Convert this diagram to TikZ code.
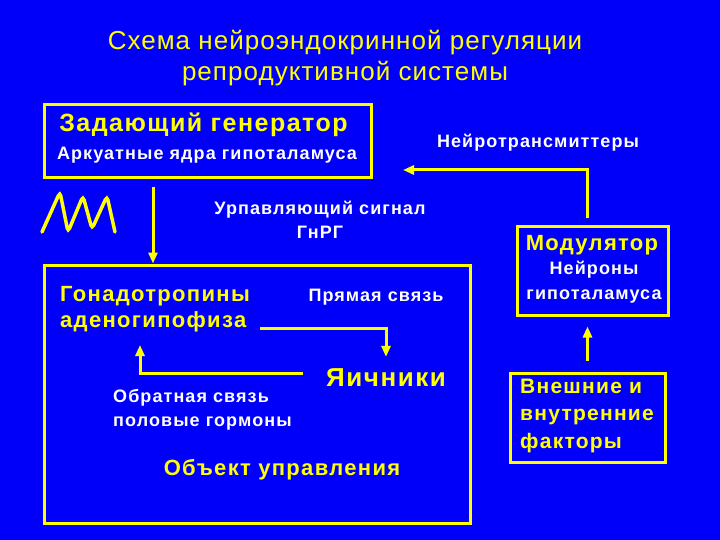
\documentclass[tikz,border=0pt]{standalone}
\usepackage{fontspec}
\setmainfont[LetterSpace=6]{Liberation Sans}
\usetikzlibrary{arrows.meta}
\definecolor{slideblue}{RGB}{0,0,250}
\definecolor{slideyellow}{RGB}{255,255,0}
\tikzset{
  frame/.style={draw=slideyellow, line width=3pt, inner sep=0pt},
  head/.style={text=slideyellow, font=\bfseries\fontsize{22}{26}\selectfont, inner sep=0pt},
  note/.style={text=white, font=\bfseries\fontsize{18}{24}\selectfont, inner sep=0pt},
  link/.style={draw=slideyellow, line width=3pt, -{Triangle[width=9pt,length=11pt]}},
}
\begin{document}
\begin{tikzpicture}[x=1pt, y=-1pt]
    \fill[slideblue] (0,0) rectangle (720,540);
    \useasboundingbox (0,0) rectangle (720,540);
    % title
    \node[text=slideyellow, font=\fontsize{26}{31}\selectfont\addfontfeature{LetterSpace=4}, align=center] (title) at (345,58)
        {Схема нейроэндокринной регуляции\\репродуктивной системы};
    % boxes
    \node[frame, minimum width=327pt, minimum height=73pt] (gen) at (207.5,141.5) {};
    \node[frame, minimum width=151pt, minimum height=88pt] (mod) at (592.5,271) {};
    \node[frame, minimum width=426pt, minimum height=258pt] (obj) at (257,394) {};
    \node[frame, minimum width=155pt, minimum height=89pt] (fac) at (587.5,417.5) {};
    % generator
    \node[head, font=\bfseries\fontsize{25}{28}\selectfont] (gentitle) at (203.5,125) {Задающий генератор};
    \node[note] (arc) at (207,155) {Аркуатные ядра гипоталамуса};
    \draw[slideyellow, line width=3.5pt, rounded corners=4pt, line cap=round]
        (42,232) -- (60,192) -- (68,232) -- (83,196) -- (92,229) -- (107,196) -- (115,232);
    \node[note, align=center] (signal) at (320,220) {Урпавляющий сигнал\\ГнРГ};
    % modulator
    \node[note] (ntr) at (538,143) {Нейротрансмиттеры};
    \node[head] (modtitle) at (592,245) {Модулятор};
    \node[note, align=center, font=\bfseries\fontsize{18}{25}\selectfont] (neur) at (594,282.5) {Нейроны\\гипоталамуса};
    \node[head, align=left, font=\bfseries\fontsize{21}{27.5}\selectfont, anchor=west] (factxt) at (520,415.5)
        {Внешние и\\внутренние\\факторы};
    % object of control
    \node[head, align=left, anchor=west] (gon) at (60,309) {Гонадотропины\\аденогипофиза};
    \node[note] (direct) at (376,297) {Прямая связь};
    \node[head, font=\bfseries\fontsize{26}{30}\selectfont] (ova) at (386,378) {Яичники};
    \node[note, align=left, anchor=west] (back) at (113,410) {Обратная связь\\половые гормоны};
    \node[head] (objtxt) at (282,470) {Объект управления};
    % connectors
    \coordinate (sigtop) at (153,187);
    \coordinate (ntrend) at (403,170);
    \coordinate (gonend) at (140,345);
    \draw[link] (sigtop) -- (sigtop |- obj.north);
    \draw[link] ([yshift=7pt]mod.north -| fac.north) |- (ntrend);
    \draw[link] ([yshift=11pt]fac.north) -- ([yshift=-10pt]mod.south -| fac.north);
    \draw[link] (260,328) -| ([yshift=12pt]ova.north);
    \draw[link] (303,373) -| (gonend);
\end{tikzpicture}
\end{document}
